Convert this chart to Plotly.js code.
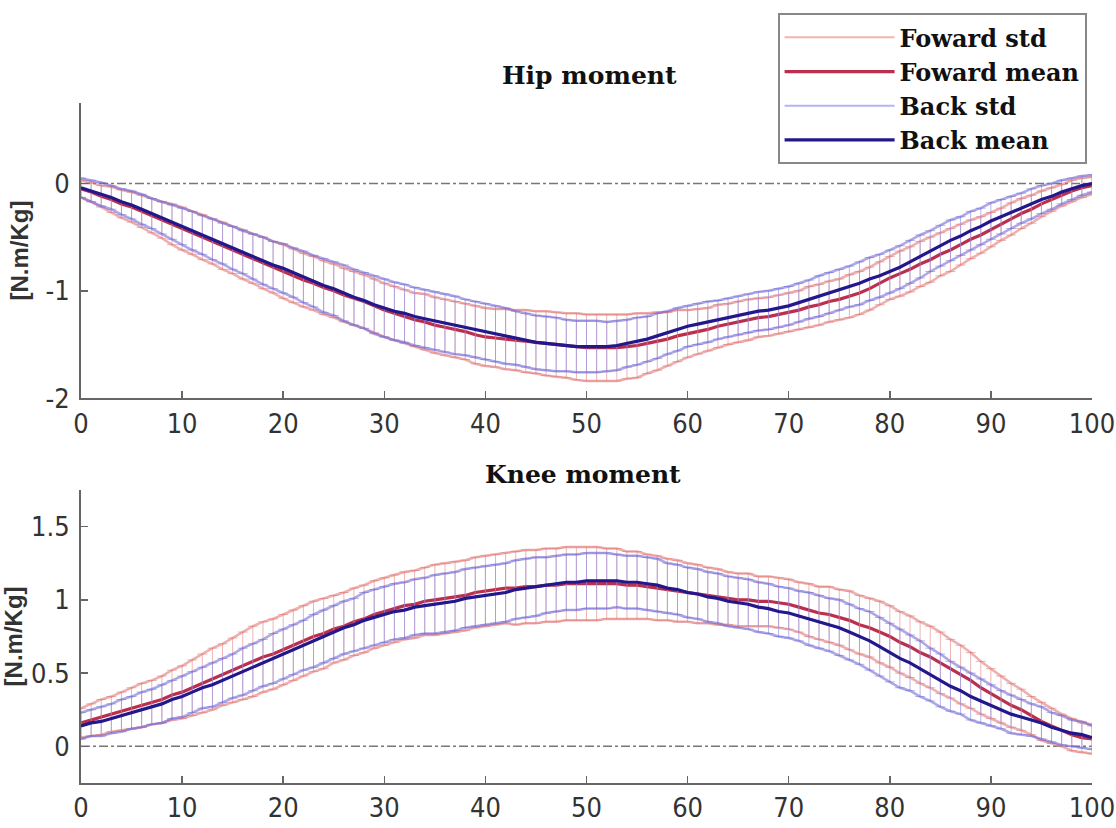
<!DOCTYPE html>
<html>
<head>
<meta charset="utf-8">
<script src="https://cdn.plot.ly/plotly-3.0.1.min.js"></script>
<style>html,body{margin:0;padding:0;background:#fff;}#chart{width:1116px;height:828px;}</style>
</head>
<body>
<div id="chart"></div>
<script>
// Gait cycle (%)
var cycle = [];
for (var i = 0; i <= 100; i++) cycle.push(i);

var xTicks = [0,10,20,30,40,50,60,70,80,90,100];
var hipYTicks = [-2,-1,0];
var hipYTickText = ["-2","-1","0"];
var kneeYTicks = [0,0.5,1,1.5];
var kneeYTickText = ["0","0.5","1","1.5"];

var seriesNames = ["Foward std","Foward mean","Back std","Back mean"];
var panelTitles = ["Hip moment","Knee moment"];
var unitLabel = "[N.m/Kg]";

// Hip moment
var hipForwardMean = [
 -0.05,-0.08,-0.12,-0.15,-0.19,-0.22,-0.26,-0.30,-0.34,-0.38,-0.42,
 -0.46,-0.50,-0.54,-0.58,-0.62,-0.66,-0.70,-0.74,-0.78,-0.82,
 -0.86,-0.90,-0.93,-0.97,-1.00,-1.04,-1.07,-1.10,-1.14,-1.18,
 -1.21,-1.24,-1.27,-1.29,-1.32,-1.34,-1.36,-1.38,-1.41,-1.43,
 -1.44,-1.45,-1.46,-1.47,-1.48,-1.49,-1.50,-1.51,-1.52,-1.53,
 -1.53,-1.53,-1.53,-1.52,-1.51,-1.49,-1.47,-1.45,-1.42,-1.40,
 -1.38,-1.36,-1.33,-1.31,-1.29,-1.27,-1.25,-1.24,-1.22,-1.20,
 -1.18,-1.15,-1.13,-1.10,-1.08,-1.05,-1.02,-0.98,-0.93,-0.88,
 -0.84,-0.80,-0.75,-0.71,-0.66,-0.62,-0.57,-0.52,-0.48,-0.43,
 -0.38,-0.33,-0.28,-0.24,-0.19,-0.15,-0.11,-0.07,-0.04,-0.02];
var hipForwardStd = [
 0.08,0.09,0.10,0.12,0.13,0.14,0.15,0.16,0.17,0.19,0.20,
 0.20,0.21,0.21,0.22,0.22,0.23,0.23,0.24,0.24,0.25,
 0.25,0.25,0.25,0.25,0.25,0.25,0.25,0.25,0.25,0.25,
 0.25,0.25,0.25,0.26,0.26,0.26,0.26,0.26,0.27,0.27,
 0.27,0.28,0.28,0.29,0.29,0.30,0.30,0.30,0.31,0.31,
 0.31,0.31,0.31,0.30,0.30,0.28,0.27,0.25,0.24,0.22,
 0.21,0.20,0.20,0.19,0.19,0.19,0.18,0.18,0.18,0.18,
 0.18,0.19,0.19,0.19,0.19,0.20,0.20,0.20,0.20,0.20,
 0.21,0.21,0.21,0.21,0.20,0.20,0.19,0.18,0.17,0.16,
 0.15,0.15,0.14,0.13,0.12,0.11,0.10,0.10,0.09,0.08];
var hipBackMean = [
 -0.04,-0.07,-0.10,-0.13,-0.17,-0.20,-0.24,-0.28,-0.32,-0.36,-0.40,
 -0.44,-0.48,-0.52,-0.56,-0.60,-0.64,-0.68,-0.72,-0.76,-0.79,
 -0.83,-0.87,-0.91,-0.95,-0.98,-1.02,-1.06,-1.09,-1.13,-1.16,
 -1.19,-1.21,-1.24,-1.26,-1.28,-1.30,-1.32,-1.34,-1.36,-1.38,
 -1.40,-1.42,-1.44,-1.46,-1.48,-1.49,-1.50,-1.51,-1.52,-1.52,
 -1.52,-1.52,-1.51,-1.49,-1.47,-1.45,-1.42,-1.39,-1.36,-1.33,
 -1.31,-1.29,-1.27,-1.25,-1.23,-1.21,-1.19,-1.18,-1.16,-1.14,
 -1.11,-1.08,-1.05,-1.02,-0.99,-0.96,-0.93,-0.89,-0.86,-0.82,
 -0.78,-0.73,-0.68,-0.63,-0.58,-0.53,-0.49,-0.44,-0.40,-0.35,
 -0.31,-0.27,-0.23,-0.19,-0.15,-0.12,-0.08,-0.05,-0.02,0.00];
var hipBackStd = [
 0.09,0.10,0.11,0.11,0.12,0.13,0.14,0.14,0.15,0.16,0.17,
 0.18,0.18,0.19,0.19,0.20,0.20,0.21,0.22,0.22,0.23,
 0.23,0.24,0.24,0.25,0.25,0.26,0.26,0.26,0.27,0.27,
 0.27,0.27,0.27,0.27,0.27,0.27,0.27,0.26,0.26,0.26,
 0.26,0.26,0.25,0.25,0.25,0.25,0.25,0.24,0.24,0.24,
 0.24,0.23,0.23,0.22,0.22,0.21,0.21,0.20,0.20,0.19,
 0.19,0.19,0.18,0.18,0.18,0.18,0.18,0.18,0.18,0.18,
 0.18,0.18,0.19,0.19,0.19,0.19,0.20,0.20,0.20,0.20,
 0.20,0.20,0.20,0.19,0.19,0.19,0.18,0.18,0.17,0.17,
 0.16,0.15,0.14,0.14,0.13,0.12,0.11,0.10,0.09,0.08];

// Knee moment
var kneeForwardMean = [
 0.16,0.18,0.20,0.22,0.24,0.26,0.28,0.30,0.32,0.35,0.37,
 0.40,0.43,0.46,0.49,0.52,0.55,0.58,0.61,0.63,0.66,
 0.69,0.72,0.75,0.77,0.80,0.82,0.85,0.87,0.90,0.92,
 0.94,0.96,0.97,0.99,1.00,1.01,1.02,1.03,1.05,1.06,
 1.07,1.08,1.08,1.09,1.09,1.10,1.10,1.11,1.11,1.11,
 1.11,1.11,1.11,1.10,1.10,1.09,1.08,1.07,1.06,1.05,
 1.04,1.03,1.02,1.01,1.00,1.00,0.99,0.99,0.98,0.97,
 0.95,0.93,0.91,0.90,0.88,0.86,0.83,0.81,0.78,0.75,
 0.71,0.68,0.64,0.61,0.57,0.53,0.49,0.45,0.40,0.36,
 0.32,0.28,0.25,0.21,0.17,0.14,0.11,0.08,0.06,0.05];
var kneeForwardStd = [
 0.10,0.11,0.12,0.12,0.13,0.14,0.15,0.15,0.16,0.17,0.18,
 0.19,0.20,0.21,0.21,0.22,0.23,0.24,0.24,0.24,0.24,
 0.24,0.24,0.24,0.24,0.23,0.23,0.23,0.23,0.23,0.23,
 0.23,0.23,0.23,0.23,0.24,0.24,0.24,0.24,0.24,0.24,
 0.24,0.24,0.25,0.25,0.25,0.25,0.25,0.25,0.25,0.25,
 0.25,0.24,0.24,0.23,0.23,0.22,0.22,0.21,0.21,0.20,
 0.20,0.19,0.19,0.18,0.18,0.18,0.17,0.17,0.17,0.17,
 0.17,0.18,0.18,0.19,0.19,0.20,0.20,0.20,0.21,0.21,
 0.21,0.21,0.21,0.21,0.21,0.20,0.20,0.19,0.18,0.17,
 0.16,0.15,0.14,0.13,0.13,0.12,0.11,0.11,0.10,0.10];
var kneeBackMean = [
 0.14,0.16,0.17,0.19,0.21,0.23,0.25,0.27,0.29,0.32,0.34,
 0.37,0.40,0.42,0.45,0.48,0.51,0.54,0.57,0.60,0.63,
 0.66,0.69,0.72,0.75,0.78,0.81,0.83,0.86,0.88,0.90,
 0.92,0.93,0.95,0.96,0.97,0.98,0.99,1.01,1.02,1.03,
 1.04,1.05,1.07,1.08,1.09,1.10,1.11,1.12,1.12,1.13,
 1.13,1.13,1.13,1.12,1.12,1.11,1.10,1.08,1.07,1.05,
 1.04,1.02,1.01,0.99,0.98,0.97,0.95,0.94,0.92,0.91,
 0.89,0.87,0.85,0.83,0.81,0.78,0.75,0.72,0.68,0.64,
 0.60,0.57,0.53,0.49,0.45,0.41,0.38,0.34,0.31,0.28,
 0.25,0.22,0.20,0.18,0.16,0.13,0.11,0.09,0.08,0.06];
var kneeBackStd = [
 0.09,0.09,0.10,0.10,0.11,0.11,0.12,0.12,0.13,0.13,0.14,
 0.14,0.14,0.15,0.15,0.15,0.16,0.16,0.16,0.17,0.17,
 0.17,0.17,0.18,0.18,0.18,0.18,0.18,0.19,0.19,0.19,
 0.19,0.19,0.19,0.19,0.20,0.20,0.20,0.20,0.20,0.20,
 0.20,0.20,0.20,0.20,0.20,0.19,0.19,0.19,0.19,0.19,
 0.19,0.19,0.18,0.18,0.18,0.18,0.18,0.17,0.17,0.17,
 0.17,0.17,0.17,0.17,0.17,0.17,0.17,0.17,0.17,0.17,
 0.17,0.18,0.18,0.18,0.19,0.19,0.19,0.20,0.20,0.20,
 0.20,0.19,0.19,0.18,0.18,0.17,0.16,0.16,0.15,0.14,
 0.13,0.13,0.12,0.11,0.11,0.10,0.10,0.09,0.09,0.08];

var fwdBarColor = "rgba(232,150,145,0.7)";
var fwdEdgeColor = "rgba(222,110,110,0.55)";
var fwdMeanColor = "#bb2f4c";
var backBarColor = "rgba(150,150,232,0.7)";
var backEdgeColor = "rgba(105,95,210,0.55)";
var backMeanColor = "#22188c";

function stdTrace(mean, std, color, name, xa, ya, show) {
  return {
    x: cycle, y: mean, type: "scatter", mode: "lines", name: name,
    legendgroup: name, showlegend: show, xaxis: xa, yaxis: ya,
    line: {color: color, width: 2},
    error_y: {type: "data", array: std, visible: true, color: color, thickness: 1, width: 5},
    hoverinfo: "skip"
  };
}
// band edge (mean +/- std) drawn as a line, emphasising the error-bar caps
function edgeTrace(mean, std, sign, color, name, xa, ya) {
  var y = mean.map(function (m, k) { return m + sign * std[k]; });
  return {
    x: cycle, y: y, type: "scatter", mode: "lines", legendgroup: name, showlegend: false,
    xaxis: xa, yaxis: ya, line: {color: color, width: 2.5}, hoverinfo: "skip"
  };
}
function meanTrace(mean, color, name, xa, ya, show) {
  return {
    x: cycle, y: mean, type: "scatter", mode: "lines", name: name,
    legendgroup: name, showlegend: show, xaxis: xa, yaxis: ya,
    line: {color: color, width: 3.2}
  };
}

function panel(fm, fs, bm, bs, xa, ya, show) {
  return [
    stdTrace(fm, fs, fwdBarColor, seriesNames[0], xa, ya, show),
    edgeTrace(fm, fs, 1, fwdEdgeColor, seriesNames[0], xa, ya),
    edgeTrace(fm, fs, -1, fwdEdgeColor, seriesNames[0], xa, ya),
    meanTrace(fm, fwdMeanColor, seriesNames[1], xa, ya, show),
    stdTrace(bm, bs, backBarColor, seriesNames[2], xa, ya, show),
    edgeTrace(bm, bs, 1, backEdgeColor, seriesNames[2], xa, ya),
    edgeTrace(bm, bs, -1, backEdgeColor, seriesNames[2], xa, ya),
    meanTrace(bm, backMeanColor, seriesNames[3], xa, ya, show)
  ];
}

var data = panel(hipForwardMean, hipForwardStd, hipBackMean, hipBackStd, "x", "y", true)
  .concat(panel(kneeForwardMean, kneeForwardStd, kneeBackMean, kneeBackStd, "x2", "y2", false));

var tickFont = {family: "Liberation Sans Narrow, DejaVu Sans Condensed, Arial Narrow, sans-serif", size: 27, color: "#333"};
var axisColor = "#666";

function xAxis(anchor) {
  return {
    anchor: anchor, range: [0, 100], tickvals: xTicks, ticks: "inside", ticklen: 7,
    tickcolor: axisColor, tickwidth: 1.5, showline: true, linecolor: axisColor, linewidth: 2,
    showgrid: false, zeroline: false, tickfont: tickFont, fixedrange: true
  };
}
function yAxis(anchor, range, ticks, text, domain) {
  return {
    anchor: anchor, domain: domain, range: range, tickvals: ticks, ticktext: text, ticks: "inside", ticklen: 7,
    tickcolor: axisColor, tickwidth: 1.5, showline: true, linecolor: axisColor, linewidth: 2,
    showgrid: false, zeroline: false, tickfont: tickFont, ticklabelstandoff: 4,
    title: {text: unitLabel, font: {family: "Liberation Sans, Arial, sans-serif", size: 24, color: "#333", weight: "bold"}, standoff: 10},
    fixedrange: true
  };
}

var titleFont = {family: "DejaVu Serif, Liberation Serif, serif", size: 25, color: "#111", weight: "bold"};

var layout = {
  width: 1116, height: 828,
  margin: {l: 81, r: 24, t: 103, b: 45},
  paper_bgcolor: "#fff", plot_bgcolor: "#fff",
  xaxis: xAxis("y"),
  yaxis: yAxis("x", [-2, 0.75], hipYTicks, hipYTickText, [0.566, 1]),
  xaxis2: xAxis("y2"),
  yaxis2: yAxis("x2", [-0.25, 1.75], kneeYTicks, kneeYTickText, [0, 0.431]),
  showlegend: true,
  legend: {
    x: 0.689, y: 1.132, xanchor: "left", yanchor: "top",
    bgcolor: "#fff", bordercolor: "#888", borderwidth: 2,
    font: {family: "DejaVu Serif, Liberation Serif, serif", size: 24, color: "#111", weight: "bold"},
    itemwidth: 110, tracegroupgap: 0
  },
  shapes: [
    {type: "line", xref: "x", yref: "y", x0: 0, x1: 100, y0: 0, y1: 0, layer: "below",
     line: {color: "#777", width: 1.5, dash: "dashdot"}},
    {type: "line", xref: "x2", yref: "y2", x0: 0, x1: 100, y0: 0, y1: 0, layer: "below",
     line: {color: "#777", width: 1.5, dash: "dashdot"}}
  ],
  annotations: [
    {text: panelTitles[0], xref: "paper", yref: "paper", x: 0.503, y: 1.041, showarrow: false,
     xanchor: "center", yanchor: "middle", font: titleFont},
    {text: panelTitles[1], xref: "paper", yref: "paper", x: 0.497, y: 0.453, showarrow: false,
     xanchor: "center", yanchor: "middle", font: titleFont}
  ]
};

Plotly.newPlot("chart", data, layout, {displayModeBar: false, staticPlot: true});
</script>
</body>
</html>
